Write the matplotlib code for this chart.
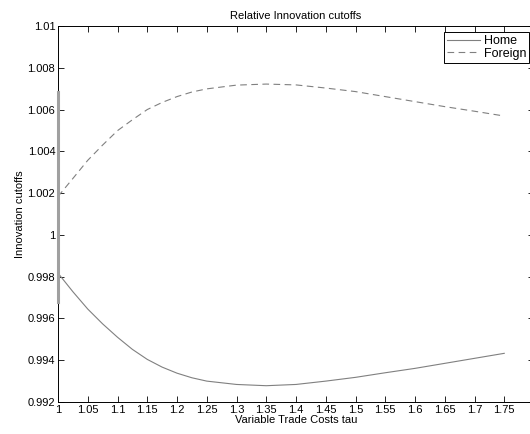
import numpy as np
import matplotlib.pyplot as plt
from matplotlib.ticker import FuncFormatter

plt.rcParams['font.family'] = ['Liberation Sans', 'DejaVu Sans']
plt.rcParams['font.size'] = 8

# values
tau = [1.0, 1.025, 1.05, 1.075, 1.1, 1.125, 1.15, 1.175, 1.2, 1.225, 1.25,
       1.3, 1.35, 1.4, 1.45, 1.5, 1.55, 1.6, 1.65, 1.7, 1.75]
home = [0.99817, 0.99728, 0.99645, 0.99574, 0.99510, 0.99452, 0.99404, 0.99367,
        0.99338, 0.99316, 0.99300, 0.99284, 0.99278, 0.99284, 0.99300, 0.99318,
        0.99340, 0.99361, 0.99385, 0.99409, 0.99433]
foreign = [1.00184, 1.00270, 1.00357, 1.00430, 1.00499, 1.00551, 1.00600, 1.00634,
           1.00662, 1.00684, 1.00699, 1.00717, 1.00722, 1.00718, 1.00703, 1.00686,
           1.00662, 1.00638, 1.00614, 1.00592, 1.00569]

xticks = [1.0, 1.05, 1.1, 1.15, 1.2, 1.25, 1.3, 1.35, 1.4, 1.45, 1.5,
          1.55, 1.6, 1.65, 1.7, 1.75]
yticks = [0.992, 0.994, 0.996, 0.998, 1.0, 1.002, 1.004, 1.006, 1.008, 1.01]

fig = plt.figure(figsize=(5.3, 4.34), dpi=100)
ax = fig.add_axes([58/530, 32/434, 476/530, 376/434])

ax.plot(tau, home, color='#808080', lw=0.8, label='Home')
ax.plot(tau, foreign, color='#808080', lw=0.8, ls=(0, (6, 4)), label='Foreign')

# grey stripe on the left spine seen in the original
ax.axvline(1.0, ymin=0.266, ymax=0.824, color='#a0a0a0', lw=2.2, zorder=3,
           clip_on=False)

ax.set_xlim(1.0, 1.8)
ax.set_ylim(0.992, 1.01)
ax.set_xticks(xticks)
ax.set_yticks(yticks)
ax.xaxis.set_major_formatter(FuncFormatter(lambda v, p: '%g' % round(v, 4)))
ax.yaxis.set_major_formatter(FuncFormatter(lambda v, p: '%g' % round(v, 5)))
ax.tick_params(direction='in', length=4, width=0.6, top=True, right=True, pad=2)
for s in ax.spines.values():
    s.set_linewidth(0.7)

ax.set_title('Relative Innovation cutoffs', fontsize=8, pad=5)
ax.set_xlabel('Variable Trade Costs tau', labelpad=0)
ax.set_ylabel('Innovation cutoffs', labelpad=2)

leg = ax.legend(loc='upper right', bbox_to_anchor=(0.99, 0.984), fancybox=False,
                framealpha=1, edgecolor='black', borderpad=0.25, handlelength=2.6,
                handletextpad=0.3, labelspacing=0.05, borderaxespad=0, fontsize=9)
leg.get_frame().set_linewidth(0.7)

plt.savefig('out.png', dpi=100)
